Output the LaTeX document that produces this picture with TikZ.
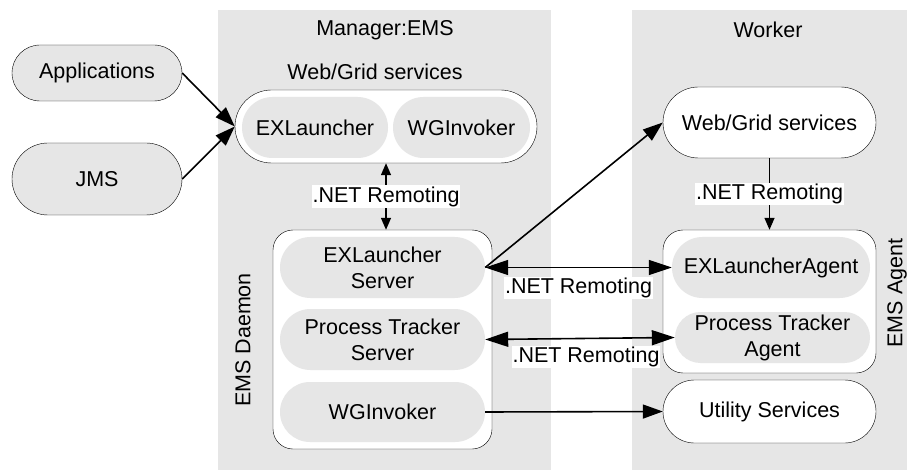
\documentclass[tikz,border=0pt]{standalone}
\usepackage{fontspec}
\setmainfont{Liberation Sans}
\usetikzlibrary{arrows.meta,shapes.misc}
\definecolor{panelgray}{HTML}{E6E6E6}
\begin{document}
\begin{tikzpicture}[
    x=1pt, y=-1pt,
    font=\fontsize{21.5}{26}\selectfont,
    pill/.style={rounded rectangle, draw, fill=white, inner sep=0pt, align=center},
    grey/.style={pill, fill=panelgray},
    inner/.style={rounded rectangle, fill=panelgray, inner sep=0pt, align=center},
    group/.style={rectangle, draw, fill=white, rounded corners=20pt, inner sep=0pt},
    big/.style={-{Triangle[length=20pt,width=14pt]}, line width=1.6pt},
    bigboth/.style={{Triangle[length=23pt,width=15pt]}-{Triangle[length=23pt,width=15pt]}, line width=1.6pt},
    small/.style={-{Triangle[length=12pt,width=10pt]}, line width=1.4pt},
    smallboth/.style={{Triangle[length=12pt,width=10pt]}-{Triangle[length=12pt,width=10pt]}, line width=1.4pt},
    lbl/.style={fill=white, inner sep=1pt}
]
\useasboundingbox (0,0) rectangle (907,470);

% Panels
\fill[panelgray] (218,10) rectangle (551,470);
\fill[panelgray] (632,10) rectangle (907,470);
\node (mgr-title) at (385,30) {Manager:EMS};
\node (wrk-title) at (768,30) {Worker};

% Clients
\node[grey, minimum width=170pt, minimum height=56pt] (apps) at (97,73) {Applications};
\node[grey, minimum width=170pt, minimum height=72pt] (jms) at (97,179) {JMS};

% Manager web/grid services
\node (mws-label) at (375,72) {Web/Grid services};
\node[pill, minimum width=302pt, minimum height=73pt] (mws) at (386,126.5) {};
\node[inner, minimum width=146pt, minimum height=61pt] (exl) at (315,127.5) {EXLauncher};
\node[inner, minimum width=137pt, minimum height=61pt] (wgi) at (461.5,127.5) {WGInvoker};

% EMS Daemon
\node[group, minimum width=219pt, minimum height=219pt] (daemon) at (382.5,339.5) {};
\node[inner, minimum width=205pt, minimum height=61pt] (exls) at (382.5,267.5) {EXLauncher\\Server};
\node[inner, minimum width=205pt, minimum height=61pt] (pts) at (382.5,339.5) {Process Tracker\\Server};
\node[inner, minimum width=205pt, minimum height=60pt] (wgis) at (382.5,412) {WGInvoker};
\node[rotate=90] (daemon-label) at (243,340) {EMS Daemon};

% Worker
\node[pill, minimum width=213pt, minimum height=71pt] (wws) at (769.5,122.5) {Web/Grid services};
\node[group, minimum width=213pt, minimum height=143pt] (agent) at (769.5,301.5) {};
\node[inner, minimum width=198pt, minimum height=61pt] (exla) at (771,267.5) {EXLauncherAgent};
\node[inner, minimum width=195pt, minimum height=51pt] (pta) at (772.5,337.5) {Process Tracker\\Agent};
\node[rotate=90] (agent-label) at (897,293) {EMS Agent};
\node[pill, minimum width=213pt, minimum height=63pt] (util) at (769.5,411.5) {Utility Services};

% Arrows
\draw[big] (apps.east) -- (mws.west);
\draw[big] (jms.east) -- (mws.west);
\draw[smallboth] (mws.south) -- (mws.south |- daemon.north)
    node[midway, lbl] (mrem) {.NET Remoting};
\draw[small] (wws.south) -- (wws.south |- agent.north)
    node[midway, lbl] (wrem) {.NET Remoting};
\draw[big] (exls.east) -- (wws.west);
\draw[bigboth] (exls.east) -- (exla.west)
    node[midway, below=9pt, lbl] (rem1) {.NET Remoting};
\draw[bigboth] (pts.east) -- (pta.west)
    node[midway, below=7pt, xshift=6pt, lbl] (rem2) {.NET Remoting};
\draw[big] (wgis.east) -- (util.west);

\end{tikzpicture}
\end{document}
